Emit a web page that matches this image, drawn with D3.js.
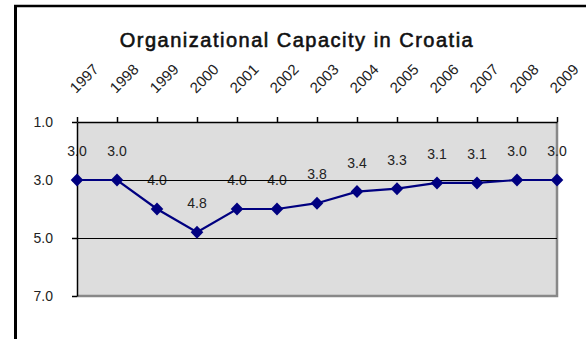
<!DOCTYPE html>
<html>
<head>
<meta charset="utf-8">
<script src="https://cdn.jsdelivr.net/npm/d3@7"></script>
<style>
  body { margin: 0; background: #fff; }
  svg text { font-family: "Liberation Sans", Arial, sans-serif; fill: #222; }
</style>
</head>
<body>
<div id="chart-area"></div>
<script>
// data
var years = ["1997", "1998", "1999", "2000", "2001", "2002", "2003",
             "2004", "2005", "2006", "2007", "2008", "2009"];
var capacity = [3.0, 3.0, 4.0, 4.8, 4.0, 4.0, 3.8, 3.4, 3.3, 3.1, 3.1, 3.0, 3.0];
var yTicks = [1.0, 3.0, 5.0, 7.0];
var gridValues = [3.0, 5.0];

var W = 586, H = 339;
var margin = {left: 77, right: 29, top: 122, bottom: 43};
var width = W - margin.left - margin.right,
    height = H - margin.top - margin.bottom;

var svg = d3.select("#chart-area")
    .append("svg")
        .attr("width", W)
        .attr("height", H);

// outer frame (only left and top edges visible)
svg.append("line")
    .attr("x1", 15.5).attr("x2", 15.5)
    .attr("y1", 5).attr("y2", H)
    .attr("stroke", "#000").attr("stroke-width", 3);
svg.append("line")
    .attr("x1", 14).attr("x2", W)
    .attr("y1", 6).attr("y2", 6)
    .attr("stroke", "#000").attr("stroke-width", 2.5);

// title (regular face, slightly thickened)
svg.append("text")
    .attr("x", 297)
    .attr("y", 47)
    .attr("text-anchor", "middle")
    .attr("font-size", "20px")
    .attr("letter-spacing", "1.5px")
    .style("fill", "#111")
    .style("stroke", "#111")
    .style("stroke-width", 0.6)
    .text("Organizational Capacity in Croatia");

var g = svg.append("g")
    .attr("transform", "translate(" + margin.left + "," + margin.top + ")");

// scales
var x = d3.scalePoint()
    .domain(years)
    .range([0, width]);

var y = d3.scaleLinear()
    .domain([1, 7])
    .range([0, height]);

// plot background + grey right/bottom border
g.append("rect")
    .attr("width", width)
    .attr("height", height)
    .attr("fill", "#dddddd");
g.append("path")
    .attr("d", "M" + width + ",0V" + height + "H0")
    .attr("fill", "none")
    .attr("stroke", "#888")
    .attr("stroke-width", 2.5);

// data labels (behind grid and axis lines)
g.selectAll(".val")
    .data(capacity)
    .enter().append("text")
        .attr("class", "val")
        .attr("x", function(d, i){ return x(years[i]); })
        .attr("y", function(d){ return y(d) - 24; })
        .attr("text-anchor", "middle")
        .attr("font-size", "14px")
        .text(function(d){ return d3.format(".1f")(d); });

// gridlines
g.selectAll(".grid")
    .data(gridValues)
    .enter().append("line")
        .attr("class", "grid")
        .attr("x1", 0).attr("x2", width)
        .attr("y1", function(d){ return Math.round(y(d)) + 0.5; })
        .attr("y2", function(d){ return Math.round(y(d)) + 0.5; })
        .attr("stroke", "#000");

// x axis on top
var xAxisCall = d3.axisTop(x)
    .tickSize(5)
    .tickSizeOuter(0)
    .tickFormat("");
g.append("g")
    .attr("class", "x-axis")
    .call(xAxisCall);

g.selectAll(".year")
    .data(years)
    .enter().append("text")
        .attr("class", "year")
        .attr("transform", function(d){
            return "translate(" + (x(d) - 1) + "," + (-28) + ") rotate(-45)";
        })
        .attr("font-size", "15px")
        .text(function(d){ return d; });

// y axis
var yAxisCall = d3.axisLeft(y)
    .tickValues(yTicks)
    .tickSize(5)
    .tickSizeOuter(0)
    .tickPadding(19)
    .tickFormat(d3.format(".1f"));
g.append("g")
    .attr("class", "y-axis")
    .call(yAxisCall);

g.selectAll(".x-axis path, .y-axis path, .x-axis line, .y-axis line")
    .attr("stroke", "#000")
    .attr("stroke-width", 1.5);
g.selectAll(".y-axis text")
    .attr("font-size", "14px")
    .style("font-family", "Liberation Sans, Arial, sans-serif")
    .style("fill", "#222");

// series line
var line = d3.line()
    .x(function(d, i){ return x(years[i]); })
    .y(function(d){ return y(d); });

g.append("path")
    .datum(capacity)
    .attr("d", line)
    .attr("fill", "none")
    .attr("stroke", "#000080")
    .attr("stroke-width", 2.2);

// diamond markers
g.selectAll(".pt")
    .data(capacity)
    .enter().append("path")
        .attr("class", "pt")
        .attr("d", "M0,-6.5L6.3,0L0,6.5L-6.3,0Z")
        .attr("transform", function(d, i){
            return "translate(" + x(years[i]) + "," + y(d) + ")";
        })
        .attr("fill", "#000080");
</script>
</body>
</html>
